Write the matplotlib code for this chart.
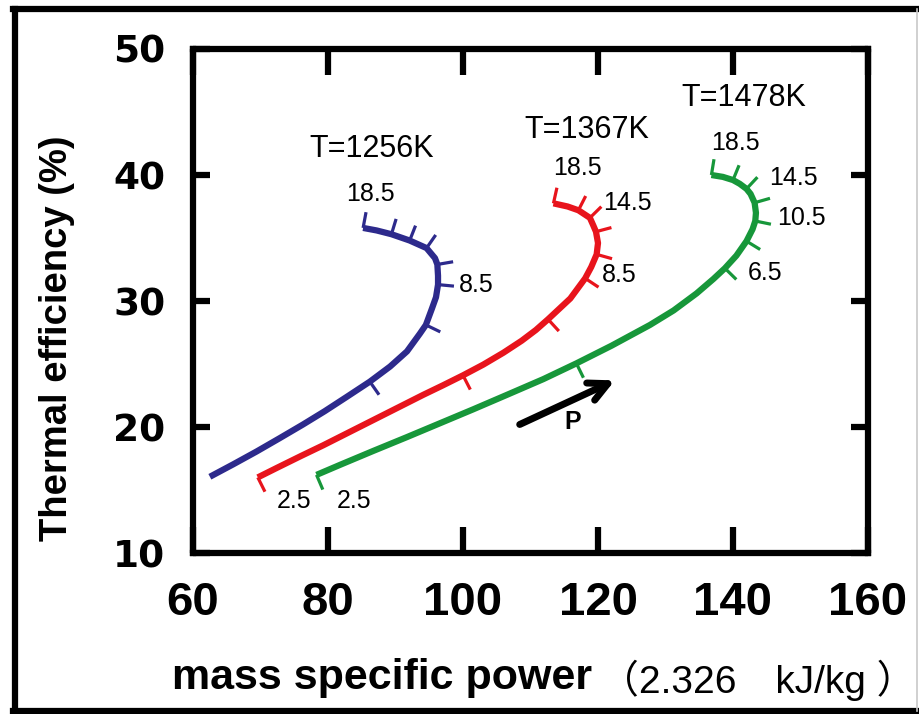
import matplotlib.pyplot as plt
import numpy as np
from matplotlib.lines import Line2D

# pressure ratios marked along the curves
ratios = [2.5, 4.5, 6.5, 8.5, 10.5, 12.5, 14.5, 16.5, 18.5]

# T=1256K  (curve, low -> high pressure ratio)
line_x_1256 = [62.5, 66.0, 69.4, 72.8, 76.3, 79.5, 82.8, 86.2, 89.2, 91.7, 93.6, 94.5, 95.4, 96.0, 96.3,
               96.3, 96.2, 95.85, 94.6, 92.1, 89.4, 87.2, 85.2]
line_y_1256 = [16.05, 17.05, 18.05, 19.1, 20.2, 21.25, 22.4, 23.6, 24.8, 26.0, 27.4, 28.1, 29.4, 30.3, 31.3,
               32.0, 32.9, 33.4, 34.2, 34.8, 35.3, 35.6, 35.8]
tick_x_1256 = [86.2, 94.5, 96.3, 96.2, 94.6, 92.1, 89.4, 85.2]   # 4.5 .. 18.5
tick_y_1256 = [23.6, 28.1, 31.3, 32.9, 34.2, 34.8, 35.3, 35.8]

# T=1367K
line_x_1367 = [69.6, 72.4, 76.0, 79.3, 83.0, 86.7, 90.4, 94.1, 97.0, 100.0, 103.0, 106.0, 108.7, 110.8,
               112.6, 115.9, 118.1, 119.0, 119.8, 120.0, 119.7, 119.3, 118.8, 117.1, 115.5, 113.4]
line_y_1367 = [16.0, 16.75, 17.7, 18.55, 19.55, 20.55, 21.55, 22.55, 23.3, 24.1, 24.95, 25.9, 26.85, 27.7,
               28.55, 30.2, 31.8, 32.7, 33.7, 34.6, 35.5, 36.0, 36.6, 37.2, 37.5, 37.75]
tick_x_1367 = [69.6, 100.0, 112.6, 118.1, 119.8, 119.7, 118.8, 117.1, 113.4]
tick_y_1367 = [16.0, 24.1, 28.55, 31.8, 33.7, 35.5, 36.6, 37.2, 37.75]

# T=1478K
line_x_1478 = [78.3, 81.8, 86.7, 91.7, 96.6, 101.5, 106.5, 111.9, 116.8, 122.0, 127.7, 131.2, 134.6,
               137.1, 138.8, 140.5, 142.0, 142.9, 143.3, 143.4, 143.2, 142.6, 142.0, 141.0, 140.0,
               138.5, 136.8]
line_y_1478 = [16.2, 17.0, 18.1, 19.2, 20.3, 21.4, 22.55, 23.8, 25.05, 26.45, 28.1, 29.25, 30.6,
               31.75, 32.6, 33.6, 34.75, 35.7, 36.35, 37.0, 37.8, 38.5, 38.9, 39.3, 39.6,
               39.85, 40.0]
tick_x_1478 = [78.3, 116.8, 138.8, 142.0, 143.3, 143.2, 142.0, 140.0, 136.8]
tick_y_1478 = [16.2, 25.05, 32.6, 34.75, 36.35, 37.8, 38.9, 39.6, 40.0]

# text labels on the chart
temp_labels = ['T=1256K', 'T=1367K', 'T=1478K']
temp_pos = [(86.5, 42.1), (118.3, 43.6), (141.6, 46.1)]
ratio_labels = ['18.5', '8.5', '18.5', '14.5', '8.5', '2.5', '18.5', '14.5', '10.5', '6.5', '2.5']
ratio_pos = [(86.3, 38.5), (101.9, 31.3),
             (117.0, 40.55), (124.4, 37.8), (123.2, 32.1), (75.0, 14.1),
             (140.4, 42.5), (149.0, 39.8), (150.2, 36.6), (144.7, 32.2), (83.9, 14.1)]

arrow_start = (108.4, 20.2)
arrow_end = (122.5, 23.7)
arrow_label_pos = (116.3, 20.4)

colors = ['#2d2a8c', '#e8141c', '#17973a']

fig = plt.figure(figsize=(9.19, 7.14), dpi=100)
ax = fig.add_axes([193 / 919, 1 - 553 / 714, 675 / 919, 504 / 714])
ax.set_xlim(60, 160)
ax.set_ylim(10, 50)
ax.set_xticks([60, 80, 100, 120, 140, 160])
ax.set_yticks([10, 20, 30, 40, 50])

for s in ax.spines.values():
    s.set_linewidth(4.5)
ax.tick_params(direction='in', top=True, right=True, width=4.5)
ax.tick_params(axis='x', length=19, pad=20)
ax.tick_params(axis='y', length=12, pad=20)
for lbl in ax.get_xticklabels():
    lbl.set_family('Liberation Sans')
    lbl.set_fontweight('bold')
    lbl.set_fontsize(34)
for lbl in ax.get_yticklabels():
    lbl.set_family('DejaVu Sans')
    lbl.set_fontweight('heavy')
    lbl.set_fontsize(27)


def tick_marks(lx, ly, tx, ty, color, length=16):
    pts = ax.transData.transform(np.column_stack([lx, ly]))
    inv = ax.transData.inverted()
    last = len(lx) - 1
    for x, y in zip(tx, ty):
        p = ax.transData.transform((x, y))
        i = int(np.argmin(np.hypot(pts[:, 0] - p[0], pts[:, 1] - p[1])))
        a = pts[max(i - 1, 0)]
        b = pts[min(i + 1, last)]
        d = (b - a) / np.hypot(*(b - a))
        n = np.array([d[1], -d[0]])
        q = inv.transform(p + length * n)
        ax.plot([x, q[0]], [y, q[1]], color=color, lw=2.3, solid_capstyle='butt', clip_on=False)


curves = [(line_x_1256, line_y_1256, tick_x_1256, tick_y_1256),
          (line_x_1367, line_y_1367, tick_x_1367, tick_y_1367),
          (line_x_1478, line_y_1478, tick_x_1478, tick_y_1478)]
for (lx, ly, tx, ty), c in zip(curves, colors):
    ax.plot(lx, ly, color=c, lw=4.5, solid_capstyle='butt', solid_joinstyle='round')
    tick_marks(lx, ly, tx, ty, c)

for t, (x, y) in zip(temp_labels, temp_pos):
    ax.text(x, y, t, ha='center', va='center', fontsize=22, family='Liberation Sans')
for t, (x, y) in zip(ratio_labels, ratio_pos):
    ax.text(x, y, t, ha='center', va='center', fontsize=18, family='Liberation Sans')

ax.annotate('', xy=arrow_end, xytext=arrow_start,
            arrowprops=dict(arrowstyle='->', lw=5, mutation_scale=34, color='black',
                            shrinkA=0, shrinkB=0))
ax.text(*arrow_label_pos, 'P', ha='center', va='center', fontsize=18,
        fontweight='bold', family='Liberation Sans')

fig.text(57 / 919, 1 - 338 / 714, 'Thermal efficiency (%)', rotation=90,
         ha='center', va='center', fontsize=27.5, fontweight='bold', family='Liberation Sans')
fig.text(172 / 919, 1 - 678 / 714, 'mass specific power', ha='left', va='center',
         fontsize=31, fontweight='bold', family='Liberation Sans')
fig.text(600 / 919, 1 - 680 / 714, '（2.326\u3000kJ/kg ）', ha='left', va='center',
         fontsize=28, family=['Liberation Sans', 'Noto Sans CJK JP'])

# outer frame round the whole figure
fr = fig.transFigure
fig.add_artist(Line2D([15 / 919, 15 / 919], [1 - 9 / 714, 1 - 711 / 714], transform=fr, color='black', lw=4.5))
fig.add_artist(Line2D([13 / 919, 918 / 919], [1 - 9 / 714, 1 - 9 / 714], transform=fr, color='black', lw=4.5))
fig.add_artist(Line2D([13 / 919, 918 / 919], [1 - 711 / 714, 1 - 711 / 714], transform=fr, color='black', lw=4.5))
fig.add_artist(Line2D([917 / 919, 917 / 919], [1 - 9 / 714, 1 - 711 / 714], transform=fr, color='#c8c8c8', lw=1.2))

fig.savefig('out.png', dpi=100)
